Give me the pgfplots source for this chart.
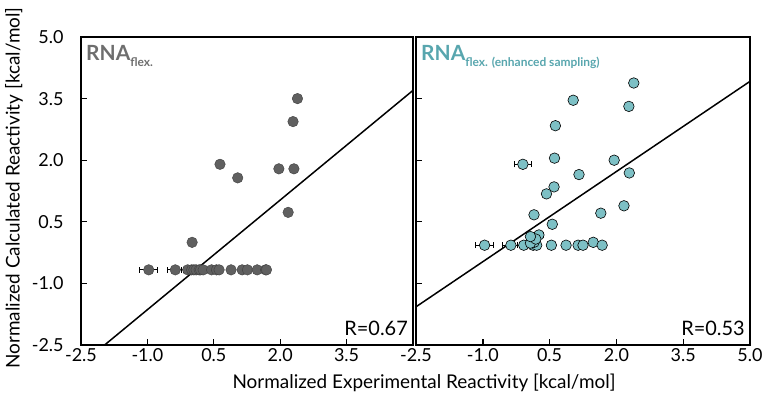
\documentclass[border=0pt]{standalone}
\usepackage{pgfplots}
\pgfplotsset{compat=1.18}
\usepackage{fontspec}
\setmainfont{Lato}
\definecolor{greypt}{RGB}{96,96,96}
\definecolor{greyedge}{RGB}{64,64,64}
\definecolor{greytitle}{RGB}{110,110,110}
\definecolor{tealpt}{RGB}{125,192,197}
\definecolor{tealtitle}{RGB}{88,166,174}

\begin{document}
\begin{tikzpicture}
\useasboundingbox (0,0) rectangle (762bp,402bp);
\pgfplotsset{
  panel/.style={
    scale only axis, anchor=south west,
    height=308bp,
    xmin=-2.5, xmax=5, ymin=-2.5, ymax=5,
    axis line style={line width=1.6pt},
    tick pos=left, tick align=inside,
    major tick length=6pt,
    every tick/.style={black, line width=1.4pt},
    ytick={-2.5,-1,0.5,2,3.5,5},
    tick label style={font=\fontsize{18}{18}\selectfont},
    /pgf/number format/fixed, /pgf/number format/fixed zerofill,
    /pgf/number format/precision=1, /pgf/number format/assume math mode=true,
  },
  errpts/.style={only marks, mark=*, mark size=5.3pt,
    error bars/x dir=both, error bars/x explicit,
    error bars/error bar style={black, line width=0.8pt},
    error bars/error mark options={rotate=90, black, mark size=3pt, line width=0.8pt}},
}
% left panel
\begin{axis}[panel, at={(81bp,57bp)}, width=332bp,
  xtick={-2.5,-1,0.5,2,3.5},
  yticklabel style={xshift=-14pt}]
\addplot[errpts, fill=greypt, draw=greyedge] coordinates {
  (-0.97,-0.67) +- (0.20,0)
  (-0.37,-0.67) +- (0.18,0)
  (-0.09,-0.67) +- (0.15,0)
  (0.01,0.00) +- (0.08,0)
};
\addplot[only marks, mark=*, mark size=5.3pt, fill=greypt, draw=greyedge] coordinates {
  (2.39,3.50) (2.29,2.94) (0.64,1.90) (1.04,1.57) (1.97,1.79) (2.31,1.79) (2.18,0.73)
  (0.00,-0.67) (0.05,-0.67) (0.10,-0.67) (0.17,-0.67) (0.20,-0.67) (0.26,-0.67)
  (0.45,-0.67) (0.56,-0.67) (0.62,-0.67) (0.89,-0.67) (1.14,-0.67) (1.26,-0.67)
  (1.48,-0.67) (1.67,-0.67) (1.69,-0.67)
};
\addplot[black, line width=1.5pt] coordinates {(-2.5,-2.975) (5,3.70)};
\node[anchor=north west, inner sep=0pt, text=greytitle] at (rel axis cs:0.015,0.975)
  {\fontsize{21}{21}\selectfont\bfseries RNA\raisebox{-6pt}{\fontsize{12}{12}\selectfont\bfseries flex.}};
\node[anchor=south east, inner sep=0pt] at (rel axis cs:0.985,0.03)
  {\fontsize{20}{20}\selectfont R=0.67};
\end{axis}
% right panel
\begin{axis}[panel, at={(416bp,57bp)}, width=334bp,
  xtick={-2.5,-1,0.5,2,3.5,5},
  yticklabels={}]
\addplot[errpts, fill=tealpt, draw=black, mark options={line width=0.6pt}] coordinates {
  (-0.96,-0.07) +- (0.20,0)
  (-0.37,-0.07) +- (0.20,0)
  (-0.08,-0.07) +- (0.15,0)
  (-0.10,1.90) +- (0.18,0)
  (0.15,0.67) +- (0.07,0)
  (0.26,0.18) +- (0.10,0)
};
\addplot[only marks, mark=*, mark size=5.3pt, fill=tealpt, draw=black, mark options={line width=0.6pt}] coordinates {
  (2.39,3.88) (1.03,3.46) (2.28,3.31) (0.63,2.84) (0.61,2.05) (1.95,2.00)
  (1.16,1.65) (2.29,1.69) (0.60,1.35) (0.43,1.18) (2.17,0.89) (1.65,0.71) (0.56,0.44)
  (0.13,-0.07) (0.21,-0.07) (0.54,-0.07) (0.87,-0.07) (1.14,-0.07) (1.25,-0.07)
  (1.48,0.00) (1.68,-0.07)
  (0.15,0.00) (0.07,-0.02) (0.19,0.08) (0.07,0.14)
};
\addplot[black, line width=1.5pt] coordinates {(-2.5,-1.57) (5,3.92)};
\node[anchor=north west, inner sep=0pt, text=tealtitle] at (rel axis cs:0.015,0.975)
  {\fontsize{21}{21}\selectfont\bfseries RNA\raisebox{-6pt}{\fontsize{12}{12}\selectfont\bfseries flex. (enhanced sampling)}};
\node[anchor=south east, inner sep=0pt] at (rel axis cs:0.985,0.03)
  {\fontsize{20}{20}\selectfont R=0.53};
\end{axis}
\node[font=\fontsize{19}{19}\selectfont] at (424bp,19bp) {Normalized Experimental Reactivity [kcal/mol]};
\node[rotate=90, font=\fontsize{19}{19}\selectfont] at (14bp,214bp) {Normalized Calculated Reactivity [kcal/mol]};
\end{tikzpicture}
\end{document}
